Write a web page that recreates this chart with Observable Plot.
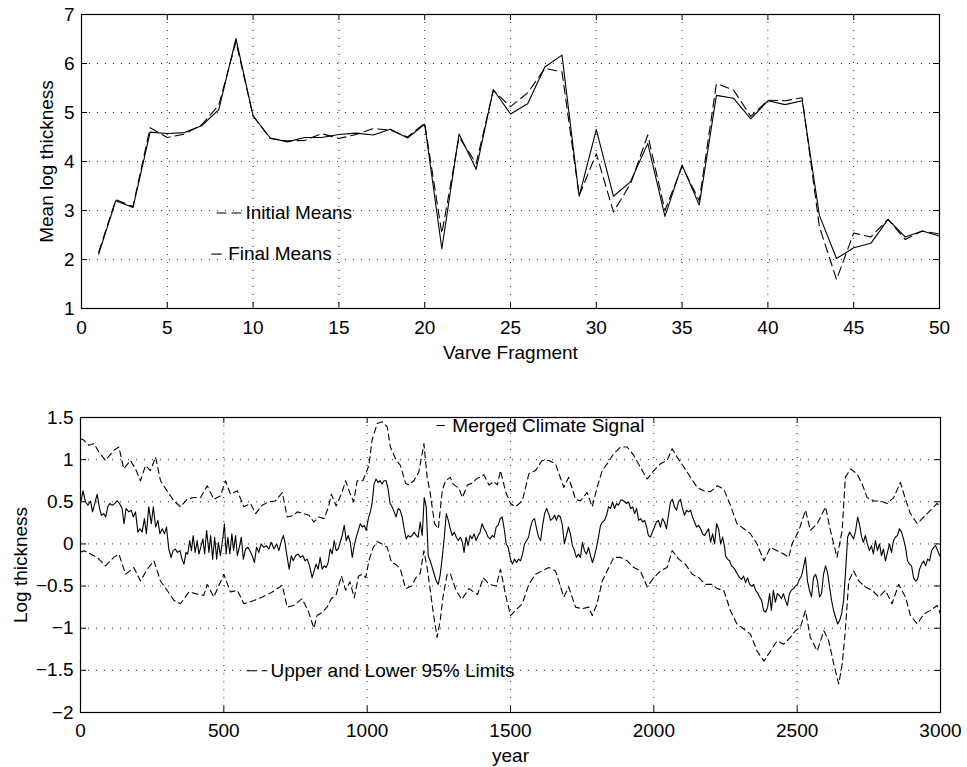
<!DOCTYPE html>
<html><head><meta charset="utf-8">
<script src="https://cdn.jsdelivr.net/npm/d3@7"></script>
<script src="https://cdn.jsdelivr.net/npm/@observablehq/plot@0.6"></script>
<style>
html,body{margin:0;padding:0;background:#fff;}
#chart{width:967px;height:767px;overflow:hidden;}
#chart svg{display:block;}
</style></head><body><div id="chart"></div>
<script>
// ---------- DATA: top panel ----------
const fragments = [1,2,3,4,5,6,7,8,9,10,11,12,13,14,15,16,17,18,19,20,21,22,23,24,25,26,27,28,29,30,31,32,33,34,35,36,37,38,39,40,41,42,43,44,45,46,47,48,49,50];
const finalMeans = [2.11,3.20,3.06,4.60,4.57,4.59,4.73,5.06,6.51,4.93,4.48,4.40,4.49,4.49,4.55,4.58,4.54,4.66,4.48,4.76,2.22,4.56,3.84,5.47,4.97,5.18,5.93,6.17,3.29,4.65,3.29,3.59,4.37,2.88,3.93,3.11,5.35,5.29,4.87,5.24,5.16,5.24,2.90,2.02,2.24,2.33,2.82,2.46,2.58,2.48];
const initialMeans = [2.15,3.22,3.08,4.69,4.49,4.56,4.75,5.15,6.44,4.93,4.47,4.42,4.43,4.57,4.47,4.55,4.67,4.64,4.50,4.78,2.53,4.50,3.96,5.45,5.12,5.40,5.90,5.83,3.30,4.16,2.97,3.55,4.54,3.00,3.90,3.20,5.59,5.46,4.92,5.25,5.24,5.30,2.67,1.59,2.54,2.46,2.82,2.41,2.58,2.52];
const topXTicks = [0,5,10,15,20,25,30,35,40,45,50];
const topYTicks = [1,2,3,4,5,6,7];
const topLegendLabels = ["Initial Means","Final Means"];
const topLegendTextX = [9.55, 8.55];
const topLegendY = [2.95, 2.11];
const topLegendSampleX1 = [7.9, 7.6];
const topLegendSampleX2 = [9.35, 8.2];
const topLegendDash = ["10,5", null];

// ---------- DATA: bottom panel ----------
const climateSignal = [[0,0.48],[9,0.63],[17,0.50],[26,0.46],[35,0.51],[42,0.38],[50,0.48],[58,0.59],[66,0.43],[73,0.34],[81,0.36],[88,0.32],[95,0.44],[102,0.48],[110,0.46],[120,0.48],[128,0.51],[136,0.48],[145,0.42],[152,0.24],[159,0.42],[169,0.38],[177,0.40],[184,0.32],[192,0.38],[200,0.14],[207,0.18],[215,0.14],[223,0.30],[230,0.12],[238,0.44],[247,0.24],[254,0.44],[262,0.20],[270,0.28],[277,0.12],[285,0.18],[293,0.12],[300,0.20],[308,-0.06],[316,-0.16],[323,-0.08],[331,-0.06],[338,-0.10],[347,-0.08],[354,-0.18],[361,-0.24],[368,-0.10],[374,-0.12],[381,0.04],[387,-0.08],[393,0.10],[400,-0.10],[407,0.04],[413,-0.12],[421,-0.02],[427,0.06],[433,-0.12],[440,0.16],[448,-0.10],[454,0.10],[461,-0.18],[468,0.08],[475,-0.18],[481,0.02],[488,-0.14],[497,0.08],[502,0.24],[508,-0.12],[514,0.08],[521,-0.12],[528,0.12],[534,-0.08],[541,0.10],[547,-0.14],[554,-0.04],[561,0.08],[568,-0.18],[576,-0.06],[584,-0.04],[591,-0.08],[599,-0.14],[607,-0.22],[614,-0.04],[622,-0.10],[630,0.0],[640,-0.04],[648,-0.02],[657,-0.06],[665,0.02],[675,-0.06],[684,0.0],[692,-0.08],[701,0.04],[708,0.10],[714,0.0],[721,-0.16],[728,-0.30],[735,-0.14],[742,-0.20],
[750,-0.14],[759,-0.12],[767,-0.16],[776,-0.14],[783,-0.20],[791,-0.18],[799,-0.26],[808,-0.40],[815,-0.32],[822,-0.24],[829,-0.30],[836,-0.16],[843,-0.30],[850,-0.26],[857,-0.28],[864,-0.22],[871,-0.06],[878,-0.12],[885,0.04],[892,-0.08],[899,-0.06],[906,0.02],[913,0.10],[920,0.22],[927,0.04],[934,0.10],[941,0.02],[948,-0.16],[955,-0.02],[962,0.08],[969,0.16],[976,0.24],[983,0.20],[990,0.22],[997,0.16],[1004,0.30],[1011,0.38],[1017,0.48],[1024,0.71],[1031,0.77],[1038,0.73],[1045,0.75],[1052,0.71],[1059,0.75],[1066,0.75],[1073,0.65],[1080,0.48],[1087,0.44],[1094,0.38],[1101,0.32],[1108,0.42],[1115,0.40],[1122,0.32],[1129,0.18],[1136,0.06],[1143,0.10],[1150,0.08],[1157,0.10],[1164,0.14],[1171,0.10],[1178,0.08],[1185,0.26],[1192,0.10],[1199,0.55],[1206,0.44],[1213,-0.14],[1220,-0.20],[1227,-0.28],[1234,-0.36],[1241,-0.44],[1248,-0.48],[1255,-0.36],[1262,-0.16],[1269,0.08],[1276,0.36],[1283,0.28],[1290,0.18],[1297,0.10],[1304,0.14],[1311,0.08],[1318,0.04],[1325,0.08],[1332,0.02],[1338,-0.10],[1345,0.08],[1352,-0.02],[1359,0.10],[1366,0.06],[1373,0.12],[1380,0.04],[1387,0.10],[1394,0.14],[1401,0.24],[1408,0.18],[1415,0.14],[1422,0.08],[1429,0.06],[1436,0.10],[1443,0.08],[1450,0.20],[1457,0.22],[1464,0.30],[1471,0.32],[1478,0.18],[1485,0.0],[1492,-0.04],
[1500,-0.18],[1507,-0.24],[1514,-0.18],[1521,-0.22],[1528,-0.18],[1535,-0.20],[1542,-0.12],[1549,0.0],[1556,0.04],[1563,0.08],[1570,0.20],[1577,0.28],[1584,0.30],[1591,0.18],[1598,0.08],[1605,0.04],[1612,0.22],[1619,0.36],[1626,0.42],[1633,0.36],[1640,0.28],[1647,0.30],[1654,0.34],[1660,0.28],[1667,0.34],[1674,0.32],[1681,0.22],[1688,0.0],[1695,0.10],[1702,0.20],[1709,0.12],[1716,-0.02],[1723,-0.08],[1730,-0.16],[1737,-0.12],[1744,-0.16],[1751,0.02],[1758,-0.08],[1765,-0.12],[1772,-0.04],[1779,-0.14],[1786,-0.22],[1793,-0.14],[1800,-0.04],[1807,0.08],[1814,0.22],[1821,0.26],[1828,0.28],[1835,0.34],[1842,0.44],[1849,0.42],[1856,0.50],[1863,0.42],[1870,0.48],[1877,0.46],[1884,0.52],[1891,0.52],[1898,0.50],[1905,0.48],[1912,0.50],[1919,0.42],[1926,0.44],[1933,0.36],[1940,0.42],[1947,0.28],[1954,0.30],[1961,0.26],[1968,0.28],[1975,0.20],[1981,0.10],[1988,0.08],[1995,0.14],[2002,0.20],[2009,0.26],[2016,0.28],[2023,0.20],[2030,0.30],[2037,0.26],[2044,0.18],[2051,0.34],[2058,0.50],[2065,0.53],[2072,0.44],[2079,0.40],[2086,0.50],[2093,0.53],[2100,0.42],[2107,0.34],[2114,0.40],[2121,0.38],[2128,0.40],[2135,0.32],[2142,0.26],[2149,0.20],[2156,0.22],[2163,0.18],[2170,0.12],[2177,0.10],[2184,0.14],[2191,0.18],[2198,0.02],[2205,0.12],[2212,0.0],[2219,0.24],[2226,0.18],[2233,0.0],[2240,0.08],[2247,-0.04],
[2250,-0.14],[2257,-0.18],[2264,-0.20],[2271,-0.26],[2278,-0.28],[2285,-0.32],[2292,-0.36],[2299,-0.40],[2306,-0.42],[2313,-0.38],[2320,-0.46],[2327,-0.40],[2334,-0.48],[2341,-0.50],[2348,-0.48],[2355,-0.55],[2362,-0.58],[2369,-0.63],[2376,-0.67],[2383,-0.79],[2390,-0.81],[2397,-0.75],[2404,-0.59],[2410,-0.79],[2417,-0.55],[2424,-0.69],[2431,-0.59],[2438,-0.61],[2445,-0.65],[2452,-0.59],[2459,-0.67],[2466,-0.73],[2473,-0.59],[2480,-0.55],[2487,-0.53],[2494,-0.50],[2501,-0.48],[2508,-0.42],[2515,-0.38],[2522,-0.28],[2529,-0.16],[2536,-0.44],[2543,-0.55],[2550,-0.63],[2557,-0.40],[2564,-0.36],[2571,-0.44],[2578,-0.63],[2585,-0.59],[2592,-0.36],[2599,-0.26],[2606,-0.34],[2613,-0.51],[2620,-0.67],[2627,-0.79],[2634,-0.87],[2641,-0.95],[2648,-0.91],[2655,-0.83],[2662,-0.67],[2669,-0.32],[2676,0.08],[2683,0.14],[2690,0.10],[2697,0.06],[2704,0.16],[2711,0.32],[2718,0.22],[2725,0.08],[2731,0.02],[2738,0.10],[2745,0.0],[2752,-0.08],[2759,-0.02],[2766,-0.12],[2773,0.04],[2780,-0.08],[2787,0.0],[2794,-0.14],[2801,-0.06],[2808,-0.20],[2815,-0.10],[2822,0.0],[2829,-0.10],[2836,0.04],[2843,0.08],[2850,0.10],[2857,0.18],[2864,0.14],[2871,0.06],[2878,-0.04],[2885,-0.20],[2892,-0.24],[2899,-0.26],[2906,-0.40],[2913,-0.44],[2920,-0.42],[2927,-0.30],[2934,-0.24],[2941,-0.20],[2948,-0.26],[2955,-0.18],[2962,-0.20],[2969,-0.08],[2976,-0.04],[2983,-0.02],[2990,-0.08],[2997,-0.14],[3000,-0.14]];

const upperLimit = [[0,1.25],[12,1.23],[29,1.17],[47,1.19],[64,1.09],[87,0.99],[116,1.11],[134,1.15],[151,0.89],[174,0.99],[192,0.89],[209,0.75],[227,0.93],[244,0.87],[262,1.03],[279,0.75],[302,0.63],[326,0.51],[349,0.44],[372,0.53],[395,0.55],[419,0.55],[442,0.69],[465,0.53],[488,0.57],[506,0.75],[523,0.59],[547,0.63],[570,0.44],[593,0.48],[611,0.36],[634,0.46],[657,0.50],[680,0.51],[704,0.61],[721,0.32],[744,0.34],[756,0.38],[779,0.36],[797,0.34],[814,0.26],[831,0.32],[850,0.30],[866,0.45],[875,0.59],[892,0.45],[913,0.62],[925,0.75],[940,0.60],[953,0.50],[965,0.75],[985,0.75],[1006,0.93],[1017,1.23],[1035,1.43],[1052,1.45],[1070,1.39],[1081,1.15],[1099,1.01],[1116,0.93],[1134,0.72],[1145,0.70],[1163,0.75],[1180,0.85],[1198,1.19],[1209,0.80],[1220,0.60],[1235,0.24],[1248,0.18],[1262,0.63],[1273,0.75],[1290,0.79],[1300,0.71],[1320,0.66],[1332,0.55],[1350,0.70],[1366,0.72],[1384,0.78],[1395,0.79],[1407,0.82],[1425,0.70],[1442,0.74],[1454,0.70],[1465,0.87],[1483,0.62],[1500,0.48],[1517,0.44],[1541,0.51],[1564,0.83],[1587,0.87],[1610,0.99],[1634,0.99],[1657,0.95],[1686,0.67],[1703,0.79],[1727,0.53],[1744,0.51],[1767,0.61],[1785,0.44],[1802,0.67],[1820,0.87],[1837,0.95],[1860,1.07],[1884,1.15],[1907,1.15],[1930,1.05],[1953,0.91],[1977,0.77],[2000,0.87],[2023,0.95],[2046,0.99],[2064,1.13],[2081,1.03],[2105,0.91],[2128,0.79],[2151,0.67],[2174,0.63],[2198,0.62],[2221,0.69],[2244,0.65],[2267,0.46],[2290,0.24],[2314,0.18],[2337,0.12],[2360,0.0],[2384,-0.20],[2407,-0.04],[2430,-0.08],[2453,-0.12],[2471,-0.16],[2482,0.0],[2506,0.16],[2529,0.40],[2546,0.16],[2570,0.24],[2599,0.44],[2616,0.16],[2639,-0.16],[2657,0.16],[2668,0.79],[2686,0.89],[2709,0.83],[2727,0.71],[2744,0.55],[2767,0.51],[2791,0.51],[2814,0.48],[2837,0.55],[2860,0.73],[2878,0.53],[2895,0.36],[2919,0.24],[2942,0.32],[2965,0.40],[2988,0.48],[3000,0.44]];

const lowerLimit = [[0,-0.10],[12,-0.08],[35,-0.12],[58,-0.16],[87,-0.26],[116,-0.16],[134,-0.12],[157,-0.36],[186,-0.28],[209,-0.44],[233,-0.30],[256,-0.20],[279,-0.44],[302,-0.55],[326,-0.67],[349,-0.71],[378,-0.57],[401,-0.59],[430,-0.61],[442,-0.48],[465,-0.63],[500,-0.36],[523,-0.57],[547,-0.55],[570,-0.71],[605,-0.67],[634,-0.63],[669,-0.57],[704,-0.49],[721,-0.75],[744,-0.73],[773,-0.65],[795,-0.80],[814,-1.00],[825,-0.85],[843,-0.81],[860,-0.75],[875,-0.65],[892,-0.60],[910,-0.38],[925,-0.55],[940,-0.45],[955,-0.64],[970,-0.38],[985,-0.36],[995,-0.40],[1006,-0.20],[1020,-0.05],[1035,0.03],[1052,0.0],[1070,-0.04],[1085,-0.22],[1099,-0.24],[1116,-0.30],[1134,-0.53],[1155,-0.50],[1170,-0.40],[1185,-0.35],[1198,-0.08],[1210,-0.30],[1222,-0.60],[1232,-0.85],[1244,-1.11],[1255,-0.90],[1265,-0.62],[1279,-0.36],[1290,-0.35],[1310,-0.55],[1330,-0.66],[1355,-0.53],[1385,-0.60],[1405,-0.40],[1425,-0.48],[1450,-0.50],[1465,-0.30],[1482,-0.59],[1500,-0.85],[1517,-0.79],[1541,-0.71],[1564,-0.48],[1587,-0.36],[1610,-0.32],[1634,-0.28],[1657,-0.32],[1686,-0.63],[1703,-0.51],[1727,-0.75],[1750,-0.77],[1773,-0.75],[1785,-0.85],[1802,-0.71],[1820,-0.44],[1843,-0.28],[1860,-0.16],[1884,-0.16],[1907,-0.20],[1930,-0.28],[1953,-0.32],[1977,-0.51],[2000,-0.40],[2023,-0.32],[2046,-0.28],[2064,-0.08],[2087,-0.18],[2110,-0.24],[2134,-0.36],[2157,-0.40],[2180,-0.48],[2204,-0.48],[2221,-0.53],[2244,-0.55],[2267,-0.79],[2290,-0.95],[2314,-1.01],[2337,-1.07],[2360,-1.27],[2384,-1.39],[2407,-1.27],[2430,-1.15],[2453,-1.19],[2476,-1.11],[2494,-1.03],[2511,-0.99],[2529,-0.79],[2546,-1.11],[2570,-1.27],[2593,-1.03],[2610,-1.15],[2628,-1.43],[2645,-1.66],[2657,-1.43],[2668,-1.03],[2680,-0.44],[2697,-0.32],[2715,-0.44],[2738,-0.51],[2762,-0.55],[2785,-0.63],[2808,-0.55],[2831,-0.71],[2854,-0.48],[2878,-0.63],[2895,-0.85],[2919,-0.95],[2942,-0.83],[2965,-0.79],[2988,-0.73],[3000,-0.83]];

const botXTicks = [0,500,1000,1500,2000,2500,3000];
const botYTicks = [-2,-1.5,-1,-0.5,0,0.5,1,1.5];
const botLegendLabels = ["Merged Climate Signal","Upper and Lower 95% Limits"];
const botLegendTextX = [1297, 663];
const botLegendY = [1.405, -1.505];
const botLegendSampleX1 = [1244, 581];
const botLegendSampleX2 = [1272, 653];
const botLegendDash = [null, "10,5"];

// ---------- RENDER ----------
const FONT = "'Liberation Sans', Arial, Helvetica, sans-serif";
const FS = 19;
const W = 967;
const fmt = d => d < 0 ? "\u2212" + Math.abs(d) : String(d);
const GRID = {stroke: "#000", strokeOpacity: 0.85, strokeWidth: 1, strokeDasharray: "1,7"};
const LINEDASH = "9,5";

function panel({height, margin, xDomain, yDomain, xTicks, yTicks, series, legend, xLabel, yLabel, yLabelDx, xPad, xLabelDy}) {
  const innerH = height - margin.top - margin.bottom;
  const innerW = W - margin.left - margin.right;
  const TK = 6;
  const legendRows = legend.labels.map((l, i) => ({label: l, tx: legend.textX[i], y: legend.y[i], x1: legend.x1[i], x2: legend.x2[i], dash: legend.dash[i]}));
  return Plot.plot({
    width: W, height,
    marginTop: margin.top, marginRight: margin.right, marginBottom: margin.bottom, marginLeft: margin.left,
    style: {fontFamily: FONT, fontSize: FS + "px", color: "#000", background: "#fff", overflow: "visible"},
    x: {domain: xDomain},
    y: {domain: yDomain},
    marks: [
      Plot.gridX(xTicks.slice(1, -1), GRID),
      Plot.gridY(yTicks.slice(1, -1), GRID),
      Plot.ruleX(xTicks, {insetTop: innerH - TK, stroke: "#000"}),
      Plot.ruleX(xTicks, {insetBottom: innerH - TK, stroke: "#000"}),
      Plot.ruleY(yTicks, {insetRight: innerW - TK, stroke: "#000"}),
      Plot.ruleY(yTicks, {insetLeft: innerW - TK, stroke: "#000"}),
      Plot.axisX({ticks: xTicks, tickSize: 0, tickPadding: xPad, tickFormat: fmt, label: null, fontSize: FS}),
      Plot.axisY({ticks: yTicks, tickSize: 0, tickPadding: 7, tickFormat: fmt, label: null, fontSize: FS}),
      ...series.map(s => Plot.line(s.data, {x: "0", y: "1", stroke: "#000", strokeWidth: 1.1, strokeDasharray: s.dash || undefined})),
      ...legendRows.map(r => Plot.ruleY([r], {y: "y", x1: "x1", x2: "x2", stroke: "#000", strokeWidth: 1.1, strokeDasharray: r.dash || undefined})),
      Plot.text(legendRows, {x: "tx", y: "y", text: "label", textAnchor: "start", fontSize: FS, fill: "#000"}),
      Plot.text([xLabel], {frameAnchor: "bottom", textAnchor: "middle", lineAnchor: "middle", dy: xLabelDy, text: d => d, fontSize: FS, fill: "#000"}),
      Plot.text([yLabel], {frameAnchor: "left", textAnchor: "middle", lineAnchor: "middle", rotate: -90, dx: yLabelDx, text: d => d, fontSize: FS, fill: "#000"}),
      Plot.frame({stroke: "#000", strokeWidth: 1.2})
    ]
  });
}

const topRows = fragments.map((f, i) => [f, initialMeans[i]]);
const topRowsFinal = fragments.map((f, i) => [f, finalMeans[i]]);

const svgTop = panel({
  height: 380, margin: {top: 14, right: 28, bottom: 72, left: 81},
  xDomain: [0, 50], yDomain: [1, 7], xTicks: topXTicks, yTicks: topYTicks,
  series: [{data: topRows, dash: LINEDASH}, {data: topRowsFinal}],
  legend: {labels: topLegendLabels, textX: topLegendTextX, y: topLegendY, x1: topLegendSampleX1, x2: topLegendSampleX2, dash: topLegendDash},
  xLabel: "Varve Fragment", yLabel: "Mean log thickness", yLabelDx: -35, xPad: 12, xLabelDy: 44
});

const svgBot = panel({
  height: 387, margin: {top: 37, right: 27, bottom: 55, left: 80},
  xDomain: [0, 3000], yDomain: [-2, 1.5], xTicks: botXTicks, yTicks: botYTicks,
  series: [{data: upperLimit, dash: "6,4"}, {data: lowerLimit, dash: "6,4"}, {data: climateSignal}],
  legend: {labels: botLegendLabels, textX: botLegendTextX, y: botLegendY, x1: botLegendSampleX1, x2: botLegendSampleX2, dash: botLegendDash},
  xLabel: "year", yLabel: "Log thickness", yLabelDx: -60, xPad: 11, xLabelDy: 43
});

const root = document.getElementById("chart");
root.appendChild(svgTop);
root.appendChild(svgBot);
</script>
</body></html>
